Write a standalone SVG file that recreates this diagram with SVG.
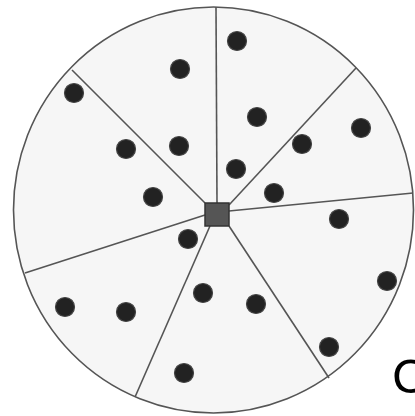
<svg xmlns="http://www.w3.org/2000/svg" width="415" height="416" viewBox="0 0 415 416">
<style>
.rim{fill:#f6f6f6;stroke:#555;stroke-width:1.6}
.spoke{stroke:#555;stroke-width:1.6;fill:none}
.dot{fill:#222;stroke:#444;stroke-width:1.2}
.hub{fill:#555;stroke:#333;stroke-width:1.5}
.lbl{font-family:"Liberation Sans",Arial,sans-serif;font-size:49px;fill:#000}
</style>
<rect width="415" height="416" fill="#fff"/>
<g id="rim"><ellipse class="rim" cx="213.5" cy="210" rx="200" ry="203"/></g>
<g id="connectors">
<line class="spoke" x1="216" y1="7" x2="217" y2="203"/>
<line class="spoke" x1="356" y1="68" x2="229" y2="205"/>
<line class="spoke" x1="413" y1="193" x2="229" y2="211"/>
<line class="spoke" x1="329" y1="378" x2="229" y2="226"/>
<line class="spoke" x1="135" y1="397" x2="210" y2="226"/>
<line class="spoke" x1="25" y1="273" x2="205" y2="215"/>
<line class="spoke" x1="72" y1="70" x2="205" y2="203"/>
</g>
<g id="hub"><rect class="hub" x="205" y="203" width="24" height="23"/></g>
<g id="dots">
<circle class="dot" cx="237" cy="41" r="9.5"/>
<circle class="dot" cx="180" cy="69" r="9.5"/>
<circle class="dot" cx="74" cy="93" r="9.5"/>
<circle class="dot" cx="257" cy="117" r="9.5"/>
<circle class="dot" cx="361" cy="128" r="9.5"/>
<circle class="dot" cx="126" cy="149" r="9.5"/>
<circle class="dot" cx="179" cy="146" r="9.5"/>
<circle class="dot" cx="302" cy="144" r="9.5"/>
<circle class="dot" cx="236" cy="169" r="9.5"/>
<circle class="dot" cx="274" cy="193" r="9.5"/>
<circle class="dot" cx="153" cy="197" r="9.5"/>
<circle class="dot" cx="339" cy="219" r="9.5"/>
<circle class="dot" cx="188" cy="239" r="9.5"/>
<circle class="dot" cx="203" cy="293" r="9.5"/>
<circle class="dot" cx="256" cy="304" r="9.5"/>
<circle class="dot" cx="387" cy="281" r="9.5"/>
<circle class="dot" cx="65" cy="307" r="9.5"/>
<circle class="dot" cx="126" cy="312" r="9.5"/>
<circle class="dot" cx="329" cy="347" r="9.5"/>
<circle class="dot" cx="184" cy="373" r="9.5"/>
</g>
<text class="lbl" x="392" y="393">C</text>
</svg>
